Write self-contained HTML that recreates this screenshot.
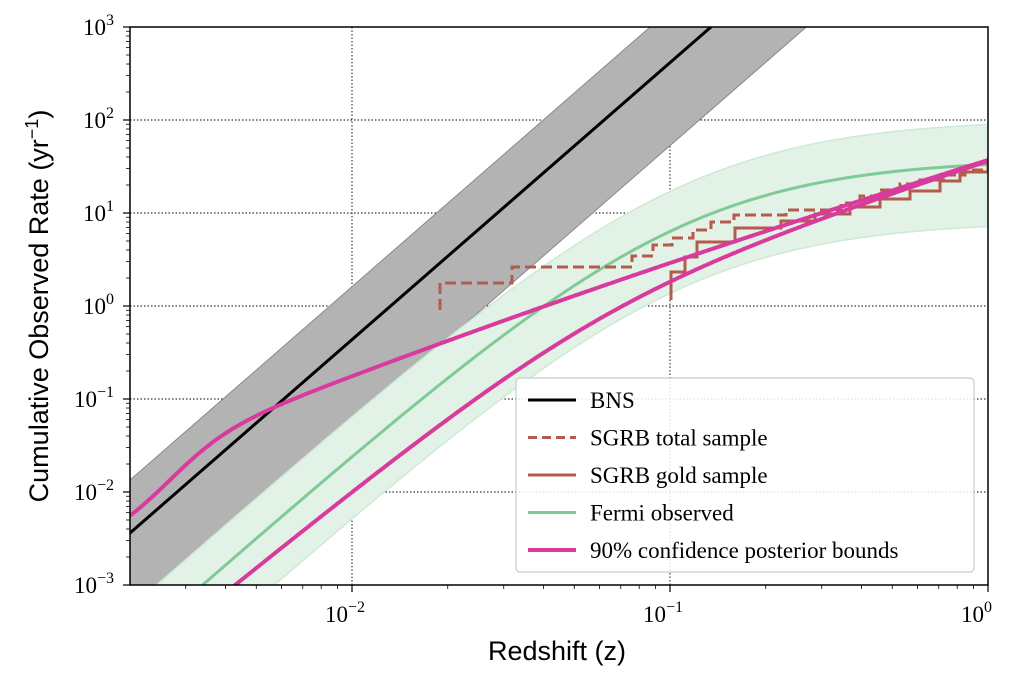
<!DOCTYPE html>
<html><head><meta charset="utf-8"><style>
body{margin:0;background:#fff;}
svg{display:block;}
text{font-family:"Liberation Serif",serif;}
</style></head><body>
<svg id="s" width="1024" height="687" xmlns="http://www.w3.org/2000/svg">
<defs><clipPath id="c"><rect x="130" y="27" width="858" height="558"/></clipPath></defs>
<g id="plot" clip-path="url(#c)"></g>
<g id="ax"></g>
</svg>
<script>
const NS="http://www.w3.org/2000/svg";
const plot=document.getElementById('plot'), ax=document.getElementById('ax');
function el(p,tag,a,t){const e=document.createElementNS(NS,tag);for(const k in a)e.setAttribute(k,a[k]);if(t!==undefined)e.textContent=t;p.appendChild(e);return e;}
const ps=a=>a.map((p,i)=>(i?'L':'M')+p[0].toFixed(1)+' '+p[1].toFixed(1)).join(' ');
const Y=r=>306-93*Math.log10(r);
function sample(f,x0,x1){const o=[];for(let x=x0;x<=x1;x+=2)o.push([x,f(x)]);return o;}
// grid
[352,670].forEach(x=>el(plot,'line',{x1:x,y1:27,x2:x,y2:585,stroke:'#000','stroke-width':0.9,'stroke-dasharray':'1.5,2'}));
[120,213,306,399,492].forEach(y=>el(plot,'line',{x1:130,y1:y,x2:988,y2:y,stroke:'#000','stroke-width':0.9,'stroke-dasharray':'1.5,2'}));
// gray band
const bc=x=>533-0.871*(x-130);
el(plot,'path',{d:`M100 ${bc(100)-53} L1000 ${bc(1000)-53} L1000 ${bc(1000)+83} L100 ${bc(100)+83} Z`,fill:'#b3b3b3',stroke:'#888','stroke-width':1});
// green (analytic)
const gf=x=>{const z=0.01*Math.pow(10,(x-352)/318);const a=26300,b=0.113,p=1.3;const r=a*z*z*z/Math.pow(1+Math.pow(z/b,p),3/p);return Y(r);};
const g=sample(gf,120,990);
const gu=g.map(p=>[p[0],p[1]-40]), gl=g.map(p=>[p[0],p[1]+62]);
el(plot,'path',{d:ps(gu)+' '+ps(gl.slice().reverse()).replace('M','L')+' Z',fill:'#e3f2e6',stroke:'#cfe9d5','stroke-width':1.5});
// BNS
el(plot,'line',{x1:100,y1:bc(100),x2:1000,y2:bc(1000),stroke:'#000','stroke-width':3});
el(plot,'path',{d:ps(g),fill:'none',stroke:'#7fca96','stroke-width':3});
// SGRB total dashed
const tot=[[440,310],[440,283],[512,283],[512,267],[632,267],[632,256],[653,256],[653,245],[672,245],[672,238],[693,238],[693,230],[711,230],[711,222],[734,222],[734,215],[786,215],[786,210],[841,210],[841,203],[860,203],[860,196],[880,196],[880,190],[900,190],[900,184],[920,184],[920,180],[945,180],[945,175],[965,175],[965,170],[988,170],[988,162]];
el(plot,'path',{d:ps(tot),fill:'none',stroke:'#b45c4c','stroke-width':3,'stroke-dasharray':'11,5'});
const gold=[[671,300],[671,272],[685,272],[685,257],[697,257],[697,242],[735,242],[735,228],[781,228],[781,221],[815,221],[815,214],[850,214],[850,207],[880,207],[880,199],[910,199],[910,191],[940,191],[940,181],[960,181],[960,172],[988,172],[988,162]];
el(plot,'path',{d:ps(gold),fill:'none',stroke:'#b45c4c','stroke-width':3});
// magenta upper
const muf=x=>160+0.35*(988-x)+70/(1+Math.exp((x-170)/30))-9*Math.sin(Math.PI*Math.max(0,Math.min(1,(x-130)/858)));
el(plot,'path',{d:ps(sample(muf,120,990)),fill:'none',stroke:'#d83a9e','stroke-width':4});
// magenta lower: slope integration
const ml=[];let yy=585+0.81*15;for(let x=220;x<=990;x+=1){if((x-220)%2==0)ml.push([x,yy]);const s=0.33+0.48/(1+Math.exp((x-600)/90));yy-=s;}
el(plot,'path',{d:ps(ml),fill:'none',stroke:'#d83a9e','stroke-width':4});
// frame
el(ax,'rect',{x:130,y:27,width:858,height:558,fill:'none',stroke:'#000','stroke-width':1.5});
// y ticks
for(let d=0;d<6;d++){const y0=585-93*d;el(ax,'line',{x1:123,y1:y0,x2:130,y2:y0,stroke:'#000','stroke-width':1.2});
 for(let m=2;m<10;m++){const y=y0-93*Math.log10(m);el(ax,'line',{x1:126,y1:y,x2:130,y2:y,stroke:'#000','stroke-width':0.8});}}
el(ax,'line',{x1:123,y1:27,x2:130,y2:27,stroke:'#000','stroke-width':1.2});
[3,2,1,0,-1,-2,-3].forEach((e,i)=>{const y=27+93*i;const t=el(ax,'text',{x:0,y:y+8,'font-size':23});
 t.appendChild(document.createTextNode('10'));el(t,'tspan',{dy:-10,'font-size':16},e<0?'\u2212'+(-e):''+e);
 const w=t.getComputedTextLength?t.getComputedTextLength():45;t.setAttribute('x',114-w);});
// x ticks
for(let d=-3;d<0;d++){for(let m=1;m<10;m++){const x=988+318*(d+Math.log10(m));if(x<130)continue;
 el(ax,'line',{x1:x,y1:585,x2:x,y2:m==1?592:589,stroke:'#000','stroke-width':m==1?1.2:0.8});}}
el(ax,'line',{x1:988,y1:585,x2:988,y2:592,stroke:'#000','stroke-width':1.2});
[[352,'\u22122'],[670,'\u22121'],[988,'0']].forEach(([x,e])=>{const t=el(ax,'text',{x:x-27,y:622,'font-size':23});
 t.appendChild(document.createTextNode('10'));el(t,'tspan',{dy:-10,'font-size':16},e);});
// axis labels
el(ax,'text',{x:557,y:660,'text-anchor':'middle','font-size':27,style:'font-family:"Liberation Sans",sans-serif'},'Redshift (z)');
const yl=el(ax,'text',{x:0,y:0,'text-anchor':'middle','font-size':27,transform:'translate(48,306) rotate(-90)',style:'font-family:"Liberation Sans",sans-serif'});
yl.appendChild(document.createTextNode('Cumulative Observed Rate (yr'));el(yl,'tspan',{dy:-10,'font-size':18},'\u22121');el(yl,'tspan',{dy:10},')');
// legend
el(ax,'rect',{x:516,y:378,width:458,height:194,rx:4,fill:'#fff','fill-opacity':0.85,stroke:'#ccc','stroke-width':1.2});
const L=[['BNS','#000',3,null],['SGRB total sample','#b45c4c',3,'9,5'],['SGRB gold sample','#b45c4c',3,null],['Fermi observed','#7fca96',3,null],['90% confidence posterior bounds','#d83a9e',4,null]];
L.forEach((l,i)=>{const y=400+37.5*i;const a={x1:528,y1:y,x2:576,y2:y,stroke:l[1],'stroke-width':l[2]};if(l[3])a['stroke-dasharray']=l[3];el(ax,'line',a);
 el(ax,'text',{x:590,y:y+8,'font-size':23},l[0]);});
</script>
</body></html>
